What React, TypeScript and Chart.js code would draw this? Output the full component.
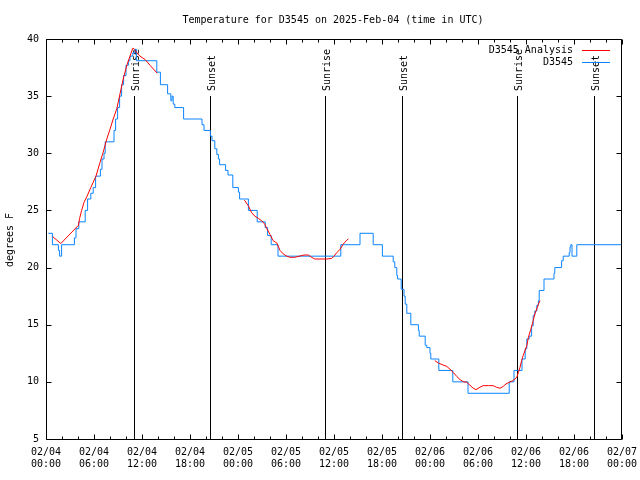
import React, { useEffect, useRef } from 'react';
import { Chart, registerables } from 'chart.js';

Chart.register(...registerables);

const TITLE = 'Temperature for D3545 on 2025-Feb-04 (time in UTC)';
const Y_TITLE = 'degrees F';

// x axis: hours since 02/04 00:00 UTC
const X_MIN = 0;
const X_MAX = 72;
const X_MAJOR_STEP = 6;
const X_MINOR_STEP = 2;
const X_TICK_DATES = ['02/04', '02/04', '02/04', '02/04', '02/05', '02/05', '02/05', '02/05', '02/06', '02/06', '02/06', '02/06', '02/07'];
const X_TICK_TIMES = ['00:00', '06:00', '12:00', '18:00', '00:00', '06:00', '12:00', '18:00', '00:00', '06:00', '12:00', '18:00', '00:00'];

const Y_MIN = 5;
const Y_MAX = 40;
const Y_STEP = 5;

// Observations (D3545), value holds until next reading
const OBS_HOURS = [
  0.3, 0.8, 1.55, 1.7, 1.95, 3.55, 3.75, 4.1, 4.9, 5.2, 5.6, 5.9, 6.2, 6.8, 7.0, 7.25, 7.4, 8.5, 8.7, 8.95,
  9.2, 9.45, 9.7, 10.0, 10.3, 10.5, 10.85, 11.1, 11.3, 13.85, 14.3, 15.2, 15.6, 15.75, 15.9, 16.1, 17.2, 19.5, 19.75, 20.55,
  20.75, 21.1, 21.35, 21.55, 21.7, 22.45, 22.75, 23.35, 24.05, 24.2, 25.3, 26.4, 27.4, 27.7, 28.15, 29.0, 36.85, 39.25, 40.9, 42.05,
  43.4, 43.6, 43.85, 43.95, 44.4, 44.75, 44.9, 45.1, 45.6, 46.55, 46.65, 47.4, 47.6, 48.0, 48.1, 49.1, 50.85, 52.75, 57.9, 58.5,
  59.5, 59.9, 60.1, 60.4, 60.7, 60.9, 61.1, 61.35, 61.55, 61.65, 62.25, 63.5, 63.6, 64.45, 64.65, 65.4, 65.5, 65.6, 65.75, 66.35,
  72,
];
const OBS_TEMPS = [
  23, 22, 21.5, 21, 22, 22.6, 23.4, 24, 25, 26, 26.5, 27, 28, 28.6, 29.5, 30, 31, 32, 33, 34,
  35, 36, 36.8, 37.7, 38.1, 38.5, 38.8, 39.1, 38.1, 37.1, 36, 35.2, 34.6, 35, 34.3, 34, 33, 32.5, 32, 31.5,
  31.1, 30.4, 29.9, 29.5, 29, 28.5, 28.1, 27, 26.6, 26, 25, 24, 23.5, 22.8, 22, 21, 22, 23, 22, 21,
  20.5, 20, 19.3, 19, 18.1, 17.5, 16.8, 16, 15, 14.5, 14, 13.2, 13, 12.5, 12, 11, 10, 9, 10, 11,
  12, 12.9, 13.75, 14, 14.9, 15.8, 16.2, 16.7, 17.1, 18, 19, 19.5, 20, 20.6, 21, 21.3, 21.8, 22, 21, 22,
  22,
];

// Analysis (D3545 Analysis), null = gap
const ANALYSIS_HOURS = [
  0.85, 1.85, 4.05, 4.2, 4.45, 4.75, 5.1, 5.6, 6.25, 6.75, 7.15, 7.6, 8.0, 8.4, 8.85, 9.25, 9.65, 10.1, 10.5, 10.85,
  11.05, 11.35, 11.75, 12.4, 13.0, 13.65, 13.9,
  19.0,
  24.8, 25.3, 25.7, 26.1, 26.55, 26.95, 27.35, 27.6, 28.0, 28.4, 28.85, 29.25, 29.65, 30.1, 30.5, 31.1, 32.25, 32.8, 33.2, 33.6,
  35.1, 35.7, 36.0, 36.35, 36.75, 37.15, 37.6, 37.8,
  43.0,
  48.6, 49.05, 49.65, 50.1, 50.5, 50.9, 51.35, 51.75, 52.15, 52.6, 53.0, 53.4, 53.75, 54.25, 54.65, 55.3, 55.9, 56.3, 56.75, 57.15,
  57.5, 57.9, 58.35, 58.85, 59.05, 59.25, 59.45, 59.65, 60.1, 60.3, 60.6, 60.9, 61.1, 61.35, 61.55, 61.75,
];
const ANALYSIS_TEMPS = [
  22.7, 22.1, 23.7, 24.3, 25, 25.7, 26.2, 27.0, 28.0, 29.2, 30.1, 31.25, 32.1, 33.0, 33.9, 35.2, 36.5, 37.7, 38.5, 39.2,
  39.1, 38.8, 38.5, 38.2, 37.7, 37.2, 37.0,
  null,
  25.9, 25.4, 24.8, 24.5, 24.3, 24.1, 23.8, 23.4, 22.9, 22.35, 22.15, 21.5, 21.2, 21.0, 20.9, 20.9, 21.1, 21.1, 20.9, 20.75,
  20.75, 20.8, 21.0, 21.3, 21.6, 22.05, 22.4, 22.5,
  null,
  11.86, 11.65, 11.47, 11.35, 11.1, 10.83, 10.47, 10.2, 10.02, 9.96, 9.7, 9.44, 9.32, 9.53, 9.67, 9.67, 9.67, 9.53, 9.44, 9.6,
  9.82, 9.96, 10.1, 10.4, 10.83, 11.27, 11.86, 12.3, 13.17, 13.9, 14.6, 15.35, 15.94, 16.38, 16.8, 17.1,
];

const EVENT_HOURS = [11.04, 20.54, 34.92, 44.54, 58.92, 68.54];
const EVENT_LABELS = ['Sunrise', 'Sunset', 'Sunrise', 'Sunset', 'Sunrise', 'Sunset'];
const EVENT_LINE_TOP = 35;

const SERIES_LABELS = ['D3545 Analysis', 'D3545'];
const SERIES_COLORS = ['#ff0000', '#0a84ff'];

const FONT = '10px "DejaVu Sans Mono", monospace';

const decorPlugin = {
  id: 'gnuplotDecor',
  beforeDatasetsDraw(chart: any) {
    const { ctx, scales } = chart;
    const x = scales.x;
    const y = scales.y;
    ctx.save();
    ctx.strokeStyle = '#000';
    ctx.fillStyle = '#000';
    ctx.lineWidth = 1;
    ctx.font = FONT;
    const yTop = Math.round(y.getPixelForValue(EVENT_LINE_TOP));
    const yBot = Math.round(y.getPixelForValue(Y_MIN));
    EVENT_HOURS.forEach((h, i) => {
      const px = Math.round(x.getPixelForValue(h)) + 0.5;
      ctx.beginPath();
      ctx.moveTo(px, yBot);
      ctx.lineTo(px, yTop);
      ctx.stroke();
      ctx.save();
      ctx.translate(px + 1.5, yTop - 5);
      ctx.rotate(-Math.PI / 2);
      ctx.textAlign = 'left';
      ctx.textBaseline = 'middle';
      ctx.fillText(EVENT_LABELS[i], 0, 0);
      ctx.restore();
    });
    ctx.restore();
  },
  afterDraw(chart: any) {
    const { ctx, chartArea: a, scales } = chart;
    const x = scales.x;
    const y = scales.y;
    ctx.save();
    ctx.strokeStyle = '#000';
    ctx.fillStyle = '#000';
    ctx.lineWidth = 1;
    // frame
    const L = a.left + 0.5;
    const R = a.right - 0.5;
    const T = a.top + 0.5;
    const B = a.bottom + 0.5;
    ctx.beginPath();
    ctx.rect(L, T, R - L, B - T);
    ctx.stroke();
    // ticks (inward, mirrored)
    ctx.beginPath();
    for (let h = X_MIN; h <= X_MAX; h += X_MINOR_STEP) {
      const px = Math.round(x.getPixelForValue(h)) + 0.5;
      const len = h % X_MAJOR_STEP === 0 ? 5 : 3;
      ctx.moveTo(px, B);
      ctx.lineTo(px, B - len);
      ctx.moveTo(px, T);
      ctx.lineTo(px, T + len);
    }
    for (let v = Y_MIN; v <= Y_MAX; v += Y_STEP) {
      const py = Math.round(y.getPixelForValue(v)) + 0.5;
      ctx.moveTo(L, py);
      ctx.lineTo(L + 5, py);
      ctx.moveTo(R, py);
      ctx.lineTo(R - 5, py);
    }
    ctx.stroke();
    ctx.font = FONT;
    // title
    ctx.textAlign = 'center';
    ctx.textBaseline = 'middle';
    ctx.fillText(TITLE, (a.left + a.right) / 2 - 1, 20);
    // y title
    ctx.save();
    ctx.translate(10, (a.top + a.bottom) / 2 + 1);
    ctx.rotate(-Math.PI / 2);
    ctx.textAlign = 'center';
    ctx.textBaseline = 'middle';
    ctx.fillText(Y_TITLE, 0, 0);
    ctx.restore();
    // legend
    chart.data.datasets.forEach((ds: any, i: number) => {
      const ty = a.top + 11 + i * 12;
      ctx.textAlign = 'right';
      ctx.textBaseline = 'middle';
      ctx.fillStyle = '#000';
      ctx.fillText(ds.label, a.right - 49, ty);
      ctx.strokeStyle = ds.borderColor;
      ctx.beginPath();
      ctx.moveTo(a.right - 40, Math.round(ty) + 0.5);
      ctx.lineTo(a.right - 12, Math.round(ty) + 0.5);
      ctx.stroke();
    });
    ctx.restore();
  },
};

export default function App() {
  const canvasRef = useRef<HTMLCanvasElement | null>(null);

  useEffect(() => {
    const canvas = canvasRef.current;
    if (!canvas) return;
    const analysis = ANALYSIS_HOURS.map((h, i) => ({ x: h, y: ANALYSIS_TEMPS[i] }));
    const obs = OBS_HOURS.map((h, i) => ({ x: h, y: OBS_TEMPS[i] }));
    const chart = new Chart(canvas, {
      type: 'line',
      data: {
        datasets: [
          {
            label: SERIES_LABELS[0],
            data: analysis as any,
            borderColor: SERIES_COLORS[0],
            backgroundColor: SERIES_COLORS[0],
            borderWidth: 1,
            pointRadius: 0,
            spanGaps: false,
            tension: 0,
          },
          {
            label: SERIES_LABELS[1],
            data: obs as any,
            borderColor: SERIES_COLORS[1],
            backgroundColor: SERIES_COLORS[1],
            borderWidth: 1,
            pointRadius: 0,
            stepped: true,
            tension: 0,
          },
        ],
      },
      options: {
        responsive: false,
        animation: false,
        events: [],
        layout: { padding: { top: 39, right: 18, left: 0, bottom: 0 } },
        plugins: {
          legend: { display: false },
          title: { display: false },
          tooltip: { enabled: false },
        },
        scales: {
          x: {
            type: 'linear',
            min: X_MIN,
            max: X_MAX,
            grid: { display: false, drawTicks: false },
            border: { display: false },
            afterFit: (s: any) => {
              s.height = 41;
              s.paddingLeft = 0;
              s.paddingRight = 0;
            },
            ticks: {
              stepSize: X_MAJOR_STEP,
              autoSkip: false,
              maxRotation: 0,
              minRotation: 0,
              padding: 7,
              color: '#000',
              font: { family: 'DejaVu Sans Mono', size: 10, lineHeight: 1.25 },
              callback: (v: any) => {
                const idx = Math.round((Number(v) - X_MIN) / X_MAJOR_STEP);
                return [X_TICK_DATES[idx], X_TICK_TIMES[idx]];
              },
            },
          },
          y: {
            type: 'linear',
            min: Y_MIN,
            max: Y_MAX,
            grid: { display: false, drawTicks: false },
            border: { display: false },
            afterFit: (s: any) => {
              s.width = 46;
              s.paddingTop = 0;
              s.paddingBottom = 0;
            },
            ticks: {
              stepSize: Y_STEP,
              padding: 7,
              color: '#000',
              font: { family: 'DejaVu Sans Mono', size: 10 },
            },
          },
        },
      },
      plugins: [decorPlugin],
    });
    return () => chart.destroy();
  }, []);

  return (
    <div style={{ position: 'fixed', left: 0, top: 0, width: 640, height: 480, background: '#fff' }}>
      <canvas ref={canvasRef} width={640} height={480} style={{ display: 'block' }} />
    </div>
  );
}
